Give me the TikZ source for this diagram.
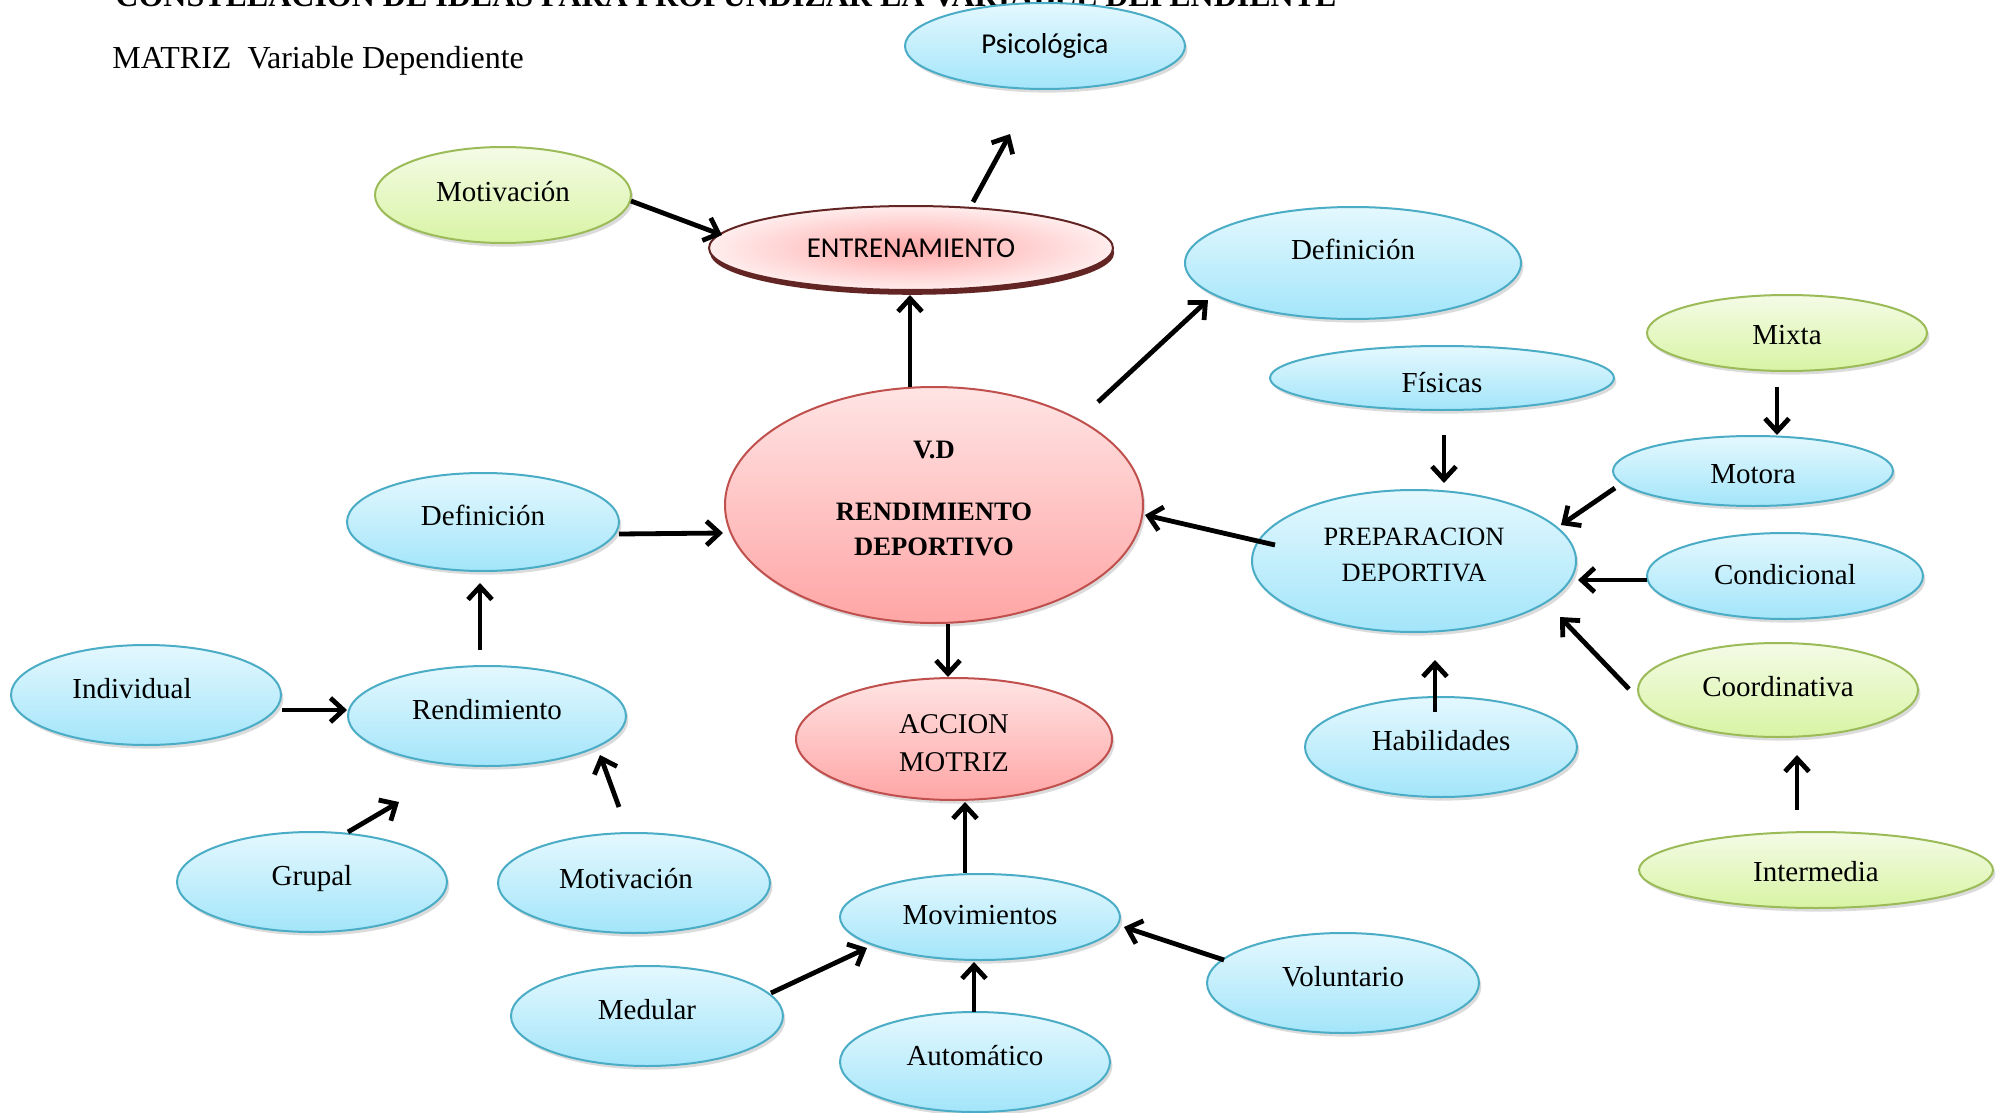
\documentclass[tikz,border=0pt]{standalone}
\usepackage{fontspec}
\setmainfont{Liberation Serif}
\newfontfamily\calibri{Carlito}
\usetikzlibrary{shapes.geometric,shadows,arrows.meta}
\definecolor{bluebd}{HTML}{4BACC6}
\definecolor{bluetop}{HTML}{E4F8FE}
\definecolor{bluebot}{HTML}{A3E5FA}
\definecolor{greenbd}{HTML}{9BBB59}
\definecolor{greentop}{HTML}{F4FBE6}
\definecolor{greenbot}{HTML}{D8F4A4}
\definecolor{redbd}{HTML}{C0504D}
\definecolor{redtop}{HTML}{FFE4E4}
\definecolor{redbot}{HTML}{FFA5A5}
\definecolor{entbd}{HTML}{632523}
\definecolor{entin}{HTML}{FFA8A8}
\definecolor{entout}{HTML}{FFEDED}
\tikzset{
  bub/.style 2 args={ellipse, inner sep=0pt, minimum width=#1pt, minimum height=#2pt,
    line width=1pt, drop shadow={shadow xshift=1.2pt, shadow yshift=-1.8pt, opacity=0.28}},
  lbl/.style={font=\fontsize{14.5}{17}\selectfont, text height=10pt, text depth=7pt},
  bluenode/.style={draw=bluebd, top color=bluetop, bottom color=bluebot},
  greennode/.style={draw=greenbd, top color=greentop, bottom color=greenbot},
  rednode/.style={draw=redbd, top color=redtop, bottom color=redbot},
  entnode/.style={ellipse, inner sep=0pt, minimum width=202pt, minimum height=42pt,
    draw=entbd, line width=1pt, inner color=entin, outer color=entout,
    drop shadow={shadow xshift=0.6pt, shadow yshift=-2.4pt, fill=entbd, opacity=1}},
  arr/.style={line width=2.4pt, -{Straight Barb[length=6.5pt,width=12pt]}},
}
\begin{document}
\begin{tikzpicture}[x=0.5pt,y=-0.5pt]
\useasboundingbox (0,0) rectangle (2004,1113);
\fill[white] (0,0) rectangle (2004,1113);
\clip (0,0) rectangle (2004,1113);

\node[anchor=base west, inner sep=0pt, font=\bfseries\fontsize{16}{19}\selectfont] (title) at (115,7)
  {CONSTELACION DE IDEAS PARA PROFUNDIZAR LA VARIABLE DEPENDIENTE};
\node[anchor=base west, inner sep=0pt, font=\fontsize{16}{19}\selectfont] (matriz) at (112,69)
  {MATRIZ~~Variable Dependiente};

\node[bub={140}{43}, bluenode, font=\calibri\fontsize{14.4}{17}\selectfont] (psi) at (1045,46) {Psicológica};
\node[bub={128}{48}, greennode, lbl, text height=12pt, text depth=6pt] (mot1) at (503,195) {Motivación};
\node[entnode, font=\calibri\fontsize{14.4}{17}\selectfont] (ent) at (911,248) {ENTRENAMIENTO};
\node[bub={168}{56}, bluenode, lbl, text height=7pt, text depth=11pt] (def2) at (1353,263) {Definición};
\node[bub={209}{118}, rednode, align=center, font=\bfseries\fontsize{13.3}{17.5}\selectfont] (vd) at (934,505)
  {V.D\\[13.5pt]RENDIMIENTO\\DEPORTIVO\rule[-6.5pt]{0pt}{6.5pt}};
\node[bub={172}{32}, bluenode, lbl, text height=16pt, text depth=2pt] (fis) at (1442,378) {Físicas};
\node[bub={140}{38}, greennode, lbl, text height=14pt, text depth=3pt] (mixta) at (1787,333) {Mixta};
\node[bub={140}{35}, bluenode, lbl, text height=14pt, text depth=2pt] (motora) at (1753,471) {Motora};
\node[bub={162}{71}, bluenode, align=center, font=\fontsize{13.2}{18}\selectfont] (prep) at (1414,561)
  {PREPARACION\\DEPORTIVA\rule[-6pt]{0pt}{6pt}};
\node[bub={138}{43}, bluenode, lbl, text height=12pt, text depth=4pt] (cond) at (1785,576) {Condicional};
\node[bub={140}{47}, greennode, lbl, text height=12pt, text depth=6pt] (coord) at (1778,690) {Coordinativa};
\node[bub={136}{50}, bluenode, lbl] (hab) at (1441,747) {Habilidades};
\node[bub={177}{38}, greennode, lbl, text height=14pt, text depth=3pt] (inter) at (1816,870) {Intermedia};
\node[bub={136}{49}, bluenode, lbl] (def1) at (483,522) {Definición};
\node[bub={135}{50}, bluenode, lbl] (indiv) at (146,695) {\hspace*{-7pt}Individual\hspace*{7pt}};
\node[bub={139}{50}, bluenode, lbl] (rend) at (487,716) {Rendimiento};
\node[bub={135}{50}, bluenode, lbl] (grupal) at (312,882) {Grupal};
\node[bub={136}{50}, bluenode, lbl, text height=12pt, text depth=7pt] (mot2) at (634,883) {\hspace*{-4pt}Motivación\hspace*{4pt}};
\node[bub={158}{61}, rednode, align=center, font=\fontsize{14.3}{19}\selectfont] (accion) at (954,739)
  {\rule{0pt}{13.4pt}ACCION\\MOTRIZ};
\node[bub={140}{43}, bluenode, lbl, text height=12pt, text depth=5pt] (movi) at (980,917) {Movimientos};
\node[bub={136}{50}, bluenode, lbl] (vol) at (1343,983) {Voluntario};
\node[bub={136}{50}, bluenode, lbl] (med) at (647,1016) {Medular};
\node[bub={135}{50}, bluenode, lbl] (auto) at (975,1062) {Automático};

\draw[arr] ([shift={(128,6)}]mot1.center) -- ([shift={(-189,-13)}]ent.center);
\draw[arr] ([shift={(62,-46)}]ent.center) -- ([shift={(-35,88)}]psi.center);
\draw[arr] ([shift={(-24,-118)}]vd.center) -- ([shift={(-1,47)}]ent.center);
\draw[arr] ([shift={(164,-103)}]vd.center) -- ([shift={(-145,37)}]def2.center);
\draw[arr] ([shift={(136,12)}]def1.center) -- ([shift={(-211,28)}]vd.center);
\draw[arr] ([shift={(-139,-16)}]prep.center) -- ([shift={(211,10)}]vd.center);
\draw[arr] ([shift={(14,119)}]vd.center) -- ([shift={(-6,-62)}]accion.center);
\draw[arr] ([shift={(2,57)}]fis.center) -- ([shift={(30,-78)}]prep.center);
\draw[arr] ([shift={(-10,54)}]mixta.center) -- ([shift={(24,-36)}]motora.center);
\draw[arr] ([shift={(-138,17)}]motora.center) -- ([shift={(147,-36)}]prep.center);
\draw[arr] ([shift={(-138,4)}]cond.center) -- ([shift={(164,19)}]prep.center);
\draw[arr] ([shift={(-149,-1)}]coord.center) -- ([shift={(146,56)}]prep.center);
\draw[arr] ([shift={(-6,-35)}]hab.center) -- ([shift={(21,99)}]prep.center);
\draw[arr] ([shift={(-19,-60)}]inter.center) -- ([shift={(19,65)}]coord.center);
\draw[arr] ([shift={(-7,-66)}]rend.center) -- ([shift={(-3,61)}]def1.center);
\draw[arr] ([shift={(136,15)}]indiv.center) -- ([shift={(-140,-6)}]rend.center);
\draw[arr] ([shift={(36,-50)}]grupal.center) -- ([shift={(-88,86)}]rend.center);
\draw[arr] ([shift={(-15,-76)}]mot2.center) -- ([shift={(113,39)}]rend.center);
\draw[arr] ([shift={(-15,-44)}]movi.center) -- ([shift={(11,63)}]accion.center);
\draw[arr] ([shift={(-119,-23)}]vol.center) -- ([shift={(144,10)}]movi.center);
\draw[arr] ([shift={(124,-23)}]med.center) -- ([shift={(-113,31)}]movi.center);
\draw[arr] ([shift={(-1,-50)}]auto.center) -- ([shift={(-6,45)}]movi.center);
\end{tikzpicture}
\end{document}
